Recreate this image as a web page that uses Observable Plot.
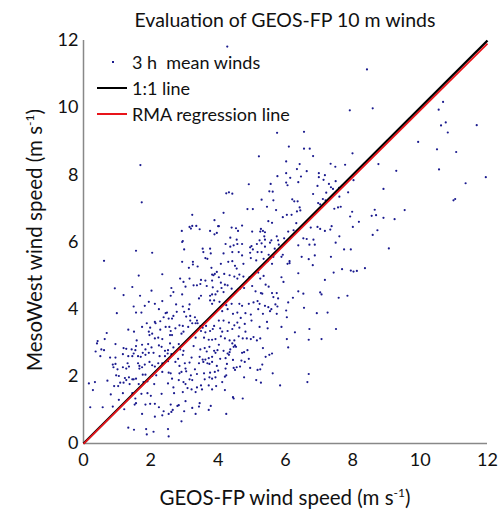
<!DOCTYPE html>
<html><head><meta charset="utf-8">
<script src="https://cdn.jsdelivr.net/npm/d3@7"></script>
<script src="https://cdn.jsdelivr.net/npm/@observablehq/plot@0.6"></script>
<style>
body{margin:0;background:#fff;font-family:Lato,"Open Sans",sans-serif;color:#111;}
#wrap{position:relative;width:500px;height:520px;overflow:hidden;}
#title{position:absolute;left:83px;width:404px;top:8px;text-align:center;font-size:19.5px;}
#chart{position:absolute;left:0;top:20px;}
#xlab{position:absolute;left:83px;width:404px;top:485px;text-align:center;font-size:20.5px;}
#ylab{position:absolute;left:34px;top:240px;transform:translate(-50%,-50%) rotate(-90deg);white-space:nowrap;font-size:20.5px;}
sup{font-size:12px;}
#legend{position:absolute;left:95px;top:49px;font-size:18px;line-height:26px;}
#legend div{display:flex;align-items:center;}
#legend svg{margin-right:5px;}
</style></head>
<body><div id="wrap">
<div id="chart"></div>
<div id="title"></div>
<div id="xlab"></div>
<div id="ylab"></div>
<div id="legend"></div>
</div>
<script>
const titleText = "Evaluation of GEOS-FP 10 m winds";
const xLabel = "GEOS-FP wind speed (m s<sup>-1</sup>)";
const yLabel = "MesoWest wind speed (m s<sup>-1</sup>)";
const legendLabels = ["3 h  mean winds", "1:1 line", "RMA regression line"];
const axisTicks = [0, 2, 4, 6, 8, 10, 12];
const axisDomain = [0, 12];
const rmaSlope = 0.993;
const rmaIntercept = -0.01;
const pointColor = "#1a1a8e";
// [GEOS-FP, MesoWest] 3 h mean wind speeds (m/s)
const winds = [
[4.27,11.82],[7.91,9.92],[5.75,9.25],[6.55,9.28],
[8.42,11.14],[8.59,9.98],[10.68,10.17],[10.55,9.94],[10.76,9.56],[10.62,9.47],[10.82,9.26],[11.68,9.48],
[1.69,8.29],[1.73,7.18],[3.23,6.81],[3.89,6.65],[3.15,6.45],[3.23,6.48],[3.19,6.40],[3.35,6.48],[3.45,6.38],[2.92,6.33],[3.76,6.33],[3.89,6.23],[3.96,6.27],[4.0,6.47],[2.95,6.03],
[6.10,8.84],[6.55,8.78],[6.72,8.78],[5.21,8.55],[6.82,8.56],[7.99,8.64],[6.02,8.40],[6.42,8.32],[7.34,8.33],[7.77,8.30],[7.48,8.24],[6.34,8.17],[6.63,8.11],[6.99,8.05],[6.99,7.93],[7.17,7.99],[5.76,7.96],[6.02,8.05],[6.14,7.91],[6.46,7.95],
[4.91,7.72],[5.56,7.73],[6.02,7.77],[6.06,7.69],[6.38,7.78],[7.13,7.85],[7.49,7.81],[7.29,7.73],[6.95,7.67],[7.35,7.63],[7.41,7.58],[7.59,7.61],[5.52,7.51],[5.62,7.50],[4.24,7.45],[4.32,7.48],[4.42,7.44],[6.82,7.43],[7.21,7.47],[7.86,7.48],
[5.29,7.26],[5.64,7.24],[6.20,7.27],[6.26,7.21],[6.36,7.21],[6.97,7.16],[7.03,7.12],[7.11,7.28],[7.19,7.24],[7.60,7.35],[4.87,6.98],[5.03,6.98],[5.45,7.05],[5.72,6.95],[6.42,7.03],[6.44,6.94],[6.34,6.91],[7.45,6.99],[7.56,7.03],[7.64,7.05],
[4.16,6.87],[6.04,6.81],[6.18,6.81],[7.98,6.90],[7.92,6.76],[5.49,6.62],[5.60,6.57],[5.92,6.74],[6.32,6.56],[4.71,6.49],[4.02,6.47],[4.40,6.43],[4.53,6.41],[4.59,6.33],[5.27,6.39],[5.33,6.33],[5.25,6.31],[5.39,6.29],[5.01,6.31],[6.75,6.43],[6.95,6.45],[7.03,6.39],[7.37,6.47],[7.33,6.37],[8.0,6.45],[6.24,6.35],[6.08,6.31],[7.17,6.33],
[4.36,6.13],[5.37,6.17],[5.74,6.17],[6.53,6.11],[6.63,6.09],[7.60,6.17],[5.96,6.11],[4.55,6.07],[5.23,6.05],[5.39,6.07],[5.58,6.05],[5.78,6.05],[6.83,6.07],
[9.94,8.98],[10.50,8.76],[11.07,8.68],[8.76,8.32],[9.29,8.12],[10.56,8.16],[8.02,7.84],[11.35,7.75],[11.95,7.93],[8.91,7.58],[10.99,7.24],[11.04,7.28],[9.54,6.95],[8.65,6.96],[8.56,6.78],[8.69,6.80],[8.91,6.72],[9.24,6.68],[8.18,6.60],[8.73,6.35],[8.59,6.21],
[1.56,5.74],[2.04,5.68],[2.93,6.0],[0.61,5.44],[1.64,5.0],[2.34,5.04],[0.93,4.62],[1.45,4.66],[1.19,4.42],[1.68,4.40],[2.02,4.55],[0.99,3.88],[1.49,4.08],[1.82,4.10],[1.94,4.22],[1.56,3.90],[1.72,3.90],[2.12,4.16],[2.34,4.24],[2.24,4.0],[2.44,3.88],[2.48,3.90],
[1.33,3.39],[1.50,3.33],[0.69,3.29],[0.63,3.11],[0.42,3.05],[1.88,3.58],[1.74,3.47],[1.94,3.33],[2.04,3.27],[2.12,3.62],[2.14,3.58],[2.28,3.64],[2.38,3.76],[2.53,3.72],[2.63,3.72],[2.67,3.80],[2.77,3.92],[2.75,4.14],[2.95,4.08],[3.15,4.14],[2.99,3.92],[3.05,3.78],[3.17,3.80],
[2.85,3.52],[2.95,3.50],[3.11,3.47],[3.33,3.58],[3.37,3.66],[3.31,3.76],[1.58,3.07],[1.96,3.23],[2.12,3.13],[2.22,3.15],[2.34,3.11],[2.44,3.47],[2.55,3.47],[2.59,3.35],[2.57,3.23],[2.73,3.43],[2.63,3.23],[1.98,3.45],[2.28,3.39],
[2.99,5.78],[2.93,5.41],[2.87,4.91],[2.97,4.81],[3.15,4.91],[3.03,4.67],[3.27,4.71],[3.13,5.23],[3.39,5.27],[3.25,5.41],[3.25,5.33],[3.54,5.80],[3.56,5.70],[3.62,5.52],[3.68,5.50],[3.76,5.80],[3.78,5.66],[3.80,5.23],[3.82,5.03],[3.86,5.01],[3.90,5.05],[3.96,5.11],
[3.37,4.71],[3.47,4.75],[3.49,4.87],[3.62,4.85],[3.66,4.69],[3.82,4.85],[3.84,4.65],[3.98,4.53],[3.76,4.40],[3.82,4.44],[3.92,4.44],[3.43,4.32],[3.49,4.40],[3.82,4.16],[3.76,4.26],[3.88,4.26],[2.61,4.63],[2.59,4.40],[2.67,4.51],[2.93,4.44],[3.13,4.0],
[3.17,3.66],[3.23,3.58],[3.39,3.58],[3.47,3.49],[3.49,3.35],[3.54,3.45],[3.64,3.50],[3.62,3.31],[3.76,3.35],[3.84,3.41],[3.88,3.50],[3.58,3.15],[3.72,3.09],[3.82,3.09],[3.92,3.11],[3.27,3.25],[3.33,3.15],[2.91,3.27],[2.97,3.33],
[4.22,5.94],[4.36,5.86],[4.46,5.90],[4.57,5.94],[4.71,5.94],[4.95,5.84],[4.99,5.88],[5.15,5.94],[5.29,5.96],[5.39,5.86],[5.54,5.98],[5.68,5.80],[5.80,5.92],[6.38,5.90],[6.71,5.92],[6.87,5.92],[7.49,5.98],[7.74,5.78],[7.94,5.78],
[4.16,5.66],[4.42,5.70],[4.61,5.70],[4.71,5.60],[4.95,5.68],[5.03,5.78],[5.17,5.70],[5.29,5.70],[5.50,5.62],[5.64,5.56],[5.88,5.56],[5.92,5.62],[6.48,5.56],[6.87,5.60],[7.35,5.56],
[4.08,5.35],[4.30,5.41],[4.42,5.43],[4.50,5.29],[4.55,5.21],[4.75,5.35],[4.97,5.52],[5.13,5.45],[5.35,5.50],[5.47,5.43],[5.60,5.35],[6.06,5.35],[6.12,5.43],[6.12,5.37],[6.69,5.49],[6.81,5.31],[7.68,5.19],[7.94,5.15],[6.38,5.07],
[4.02,4.95],[4.18,5.05],[4.34,5.01],[4.48,4.97],[4.57,4.91],[4.63,5.03],[4.75,4.97],[4.93,4.95],[5.19,5.09],[5.25,4.91],[5.35,4.99],[5.88,4.95],[5.94,4.81],[5.41,4.73],[7.17,4.87],[7.43,5.09],
[4.08,4.79],[4.20,4.73],[4.10,4.63],[4.28,4.71],[4.40,4.61],[4.16,4.51],[4.51,4.50],[4.65,4.61],[4.77,4.63],[5.01,4.69],[5.11,4.53],[5.27,4.48],[5.31,4.46],[5.50,4.67],[5.60,4.48],[5.74,4.48],[5.64,4.36],[5.78,4.32],[6.22,4.34],[6.53,4.46],[6.38,4.53],[7.03,4.50],[7.07,4.44],[7.58,4.34],[7.84,4.40],
[4.04,4.22],[4.24,4.12],[4.40,4.16],[4.63,4.16],[4.71,4.10],[4.91,4.16],[5.05,4.20],[5.17,4.24],[5.23,4.16],[5.39,4.10],[5.49,4.06],[5.58,4.0],[5.70,4.14],[5.76,4.08],[6.08,4.20],[6.55,4.04],
[4.12,3.94],[4.28,4.0],[4.44,3.86],[4.57,3.90],[4.67,3.74],[4.81,3.88],[4.97,3.84],[4.99,3.66],[5.19,4.0],[5.33,3.86],[5.54,3.94],[5.74,3.86],[6.02,3.96],[6.04,3.76],[6.93,3.88],[7.25,3.90],[7.50,3.41],
[4.02,3.66],[4.16,3.66],[4.32,3.60],[4.48,3.52],[4.57,3.60],[4.06,3.43],[4.12,3.33],[4.28,3.35],[4.42,3.41],[4.63,3.45],[4.79,3.56],[4.81,3.33],[5.23,3.47],[5.47,3.43],[5.45,3.62],[5.88,3.47],[6.28,3.31],[6.71,3.41],
[4.08,3.19],[4.20,3.13],[4.34,3.07],[4.48,3.07],[4.61,3.19],[4.73,3.13],[4.85,3.13],[4.97,3.11],[5.05,3.17],[5.15,3.07],[5.25,3.13],[6.04,3.11],[6.69,3.09],[7.07,3.11],
[9.07,5.81],[8.36,5.22],[8.12,5.14],[8.02,5.12],
[0.40,2.98],[0.95,2.96],[1.19,2.84],[1.27,2.82],[1.43,2.80],[1.54,2.78],[1.56,2.90],[1.74,2.94],[1.84,2.80],[1.92,2.96],[2.02,2.86],[2.24,2.92],[2.32,2.88],[2.42,2.76],[2.51,2.78],[2.57,2.98],[2.67,2.86],[2.83,2.96],[2.87,2.80],[2.97,2.76],[3.27,2.90],[3.47,2.80],[3.60,2.84],[3.66,2.74],[3.74,2.88],[3.88,2.76],[3.98,2.78],
[0.36,2.74],[0.50,2.60],[0.53,2.80],[0.61,2.78],[0.79,2.56],[0.95,2.56],[1.17,2.66],[1.33,2.60],[1.45,2.60],[1.49,2.68],[1.62,2.60],[1.70,2.58],[1.76,2.70],[1.84,2.64],[1.94,2.70],[2.08,2.70],[2.26,2.60],[2.42,2.60],[2.50,2.68],[2.61,2.66],[2.81,2.52],[2.95,2.64],[3.21,2.56],[3.45,2.58],[3.54,2.50],[3.62,2.50],[3.72,2.54],[3.82,2.58],[3.92,2.70],
[0.87,2.35],[0.89,2.27],[0.95,2.37],[1.01,2.21],[1.17,2.27],[1.27,2.23],[1.31,2.39],[1.35,2.29],[1.62,2.39],[1.66,2.31],[1.66,2.23],[1.74,2.27],[1.82,2.35],[1.96,2.43],[2.04,2.33],[2.12,2.29],[2.22,2.39],[2.34,2.39],[2.51,2.45],[2.73,2.43],[2.85,2.31],[3.01,2.39],[3.03,2.23],[3.15,2.41],[3.31,2.21],[3.43,2.39],[3.56,2.43],[3.68,2.39],[3.74,2.37],[3.82,2.43],[3.96,2.31],
[0.97,2.03],[1.05,2.01],[1.23,1.95],[1.35,1.97],[1.45,1.91],[1.56,1.93],[1.76,2.05],[1.84,2.05],[2.04,2.01],[2.16,2.03],[2.34,2.13],[2.53,2.11],[2.59,2.09],[2.85,2.09],[2.91,2.13],[3.05,2.15],[3.19,2.03],[3.37,2.07],[3.58,2.09],[3.76,2.11],[3.90,2.13],[4.0,2.17],
[0.16,1.79],[0.34,1.83],[0.71,1.87],[0.91,1.71],[1.03,1.71],[1.09,1.81],[1.19,1.81],[1.27,1.89],[1.37,1.77],[1.49,1.91],[1.64,1.77],[1.78,1.83],[1.90,1.85],[2.10,1.77],[2.51,1.79],[2.63,1.93],[2.83,1.89],[2.97,1.83],[3.03,1.77],[3.15,1.91],[3.23,1.89],[3.49,1.73],[3.60,1.91],[3.74,1.97],[3.82,1.93],[3.92,1.97],
[0.28,1.59],[0.81,1.46],[1.17,1.50],[1.45,1.50],[1.54,1.34],[1.72,1.48],[1.90,1.50],[2.0,1.42],[2.32,1.48],[2.67,1.67],[2.69,1.50],[2.95,1.53],[3.09,1.65],[3.21,1.61],[3.33,1.53],[3.37,1.67],[3.52,1.61],[3.72,1.73],[3.82,1.61],[3.94,1.71],
[0.20,1.08],[0.57,1.08],[0.87,1.10],[1.05,1.30],[1.21,1.02],[1.52,1.16],[1.56,1.20],[1.84,1.16],[1.98,1.18],[2.12,1.18],[2.24,1.08],[2.59,1.16],[2.65,1.0],[2.79,1.12],[2.83,1.14],[3.03,1.26],[3.23,1.06],[3.45,1.20],[3.43,1.10],[3.78,1.12],
[1.74,0.88],[2.12,0.80],[2.34,0.84],[2.38,0.96],[2.53,0.88],[2.61,0.94],[2.99,0.96],[3.33,0.88],[3.72,1.0],[2.91,0.66],
[1.33,0.47],[1.50,0.41],[1.86,0.43],[1.88,0.27],[2.08,0.35],[2.51,0.43],[2.53,0.21],
[4.02,2.94],[4.42,2.98],[4.50,2.92],[4.53,2.88],[4.46,2.88],[4.36,2.80],[4.16,2.76],[4.28,2.68],[4.32,2.64],[4.34,2.72],[4.71,2.70],[4.77,2.72],[4.87,2.78],[4.06,2.52],[4.22,2.54],[4.44,2.49],[4.69,2.47],[4.79,2.43],[4.91,2.52],[5.33,2.84],[5.41,2.58],[5.52,2.64],[5.60,2.68],[6.08,2.86],
[4.26,2.37],[4.22,2.23],[4.46,2.25],[4.50,2.19],[4.55,2.27],[4.65,2.29],[4.95,2.25],[5.17,2.19],[5.25,2.21],[5.31,2.35],[5.62,2.09],[4.20,1.99],[4.24,2.03],[4.77,1.97],[5.13,1.89],[5.27,1.81],[5.84,1.73],[4.12,1.83],[6.69,2.07],[6.65,1.83],[4.20,1.59],[4.44,1.38],[4.46,1.34],[4.73,1.34],[4.24,0.88]
];

document.getElementById("title").textContent = titleText;
document.getElementById("xlab").innerHTML = xLabel;
document.getElementById("ylab").innerHTML = yLabel;

const fitX = axisDomain;
const chart = Plot.plot({
  width: 500, height: 500,
  marginTop: 20, marginBottom: 77, marginLeft: 83, marginRight: 13,
  style: {fontSize: "18px", fontFamily: "Lato, 'Open Sans', sans-serif", color: "#111", background: "transparent"},
  x: {domain: axisDomain, ticks: axisTicks, label: null},
  y: {domain: axisDomain, ticks: axisTicks, label: null},
  marks: [
    Plot.axisX({ticks: axisTicks, tickSize: 0, tickPadding: 10, label: null, fontSize: 18}),
    Plot.axisY({ticks: axisTicks, tickSize: 0, tickPadding: 5, label: null, fontSize: 18}),
    Plot.ruleX([axisDomain[0]], {stroke: "#888", strokeWidth: 1.5}),
    Plot.ruleY([axisDomain[0]], {stroke: "#888", strokeWidth: 1.5}),
    Plot.dot(winds, {x: d => d[0], y: d => d[1], r: 1.1, fill: pointColor, stroke: null}),
    Plot.link([0], {x1: () => fitX[0], y1: () => fitX[0], x2: () => fitX[1], y2: () => fitX[1], stroke: "#000", strokeWidth: 2.3}),
    Plot.link([0], {x1: () => fitX[0], y1: () => rmaIntercept + rmaSlope * fitX[0], x2: () => fitX[1], y2: () => rmaIntercept + rmaSlope * fitX[1], stroke: "#e8141a", strokeWidth: 1.8})
  ]
});
document.getElementById("chart").appendChild(chart);

const lg = document.getElementById("legend");
const sw = [
  `<svg width="32" height="10"><rect x="17" y="4" width="2" height="2" fill="${pointColor}"/></svg>`,
  `<svg width="32" height="10"><line x1="2" y1="5" x2="32" y2="5" stroke="#000" stroke-width="2"/></svg>`,
  `<svg width="32" height="10"><line x1="2" y1="5" x2="32" y2="5" stroke="#e8141a" stroke-width="2"/></svg>`
];
legendLabels.forEach((t, i) => {
  const d = document.createElement("div");
  d.innerHTML = sw[i] + `<span style="white-space:pre">${t}</span>`;
  lg.appendChild(d);
});
</script></body></html>
